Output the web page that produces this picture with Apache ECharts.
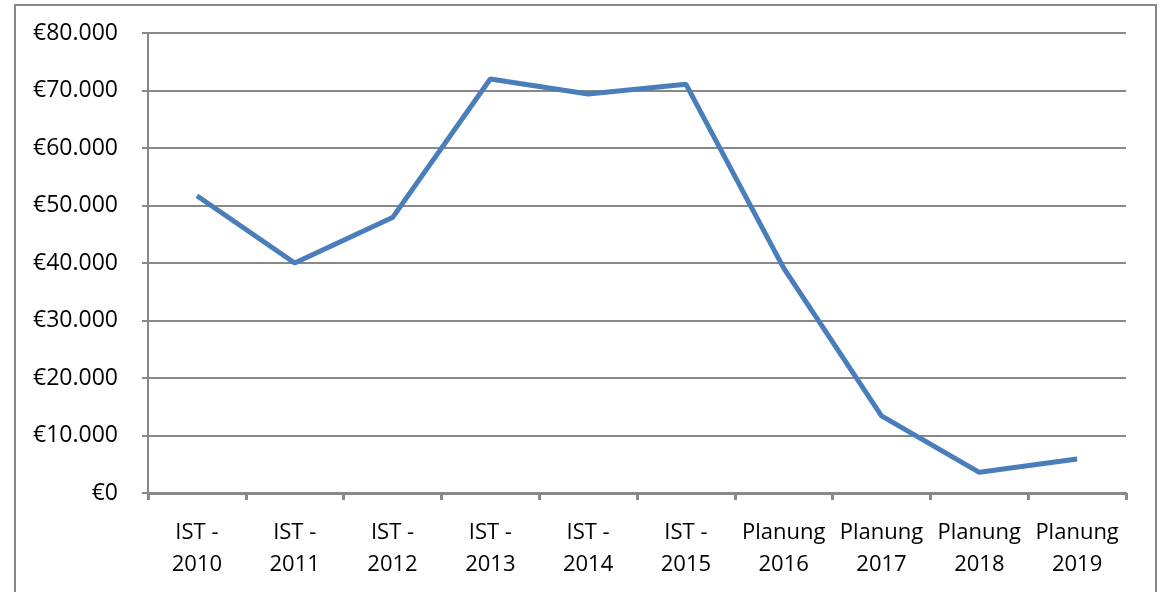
<!DOCTYPE html>
<html>
<head>
<meta charset="utf-8">
<script src="https://cdn.jsdelivr.net/npm/echarts@6/dist/echarts.min.js"></script>
<style>
html, body { margin: 0; padding: 0; background: #fff; }
#chart { width: 1160px; height: 592px; }
</style>
</head>
<body>
<div id="chart"></div>
<script>
// Kategorien und Werte
var categories = ['IST -\n2010', 'IST -\n2011', 'IST -\n2012', 'IST -\n2013', 'IST -\n2014', 'IST -\n2015',
    'Planung\n2016', 'Planung\n2017', 'Planung\n2018', 'Planung\n2019'];
var werte = [51700, 40000, 47900, 72000, 69400, 71100, 39100, 13400, 3600, 5900];
var yMin = 0, yMax = 80000, yStep = 10000;

var gray = '#888888';
var chart = echarts.init(document.getElementById('chart'));

function euro(v) {
    // €80.000 style
    return '€' + String(v).replace(/\B(?=(\d{3})+(?!\d))/g, '.');
}

var option = {
    animation: false,
    textStyle: { fontFamily: 'Open Sans' },
    graphic: [{
        type: 'rect',
        shape: { x: 15, y: 5, width: 1141, height: 600 },
        style: { fill: 'none', stroke: gray, lineWidth: 2 },
        silent: true
    }],
    grid: { left: 148, right: 34, top: 33, bottom: 99 },
    xAxis: {
        type: 'category',
        data: categories,
        boundaryGap: true,
        axisLine: { show: true, lineStyle: { color: gray, width: 3 } },
        axisTick: { show: true, length: 7, interval: 0, lineStyle: { color: gray, width: 3 } },
        axisLabel: {
            interval: 0,
            margin: 24,
            color: '#000',
            fontSize: 22,
            lineHeight: 32,
            fontFamily: 'Open Sans'
        },
        splitLine: { show: false }
    },
    yAxis: {
        type: 'value',
        min: yMin,
        max: yMax,
        interval: yStep,
        axisLine: { show: true, lineStyle: { color: gray, width: 2 } },
        axisTick: { show: true, length: 6, lineStyle: { color: gray, width: 2 } },
        axisLabel: {
            margin: 30,
            color: '#000',
            fontSize: 23,
            fontFamily: 'Open Sans',
            formatter: euro
        },
        splitLine: { show: true, lineStyle: { color: gray, width: 2 } }
    },
    series: [{
        type: 'line',
        data: werte,
        symbol: 'none',
        lineStyle: { color: '#4a7ebb', width: 5 },
        itemStyle: { color: '#4a7ebb' }
    }]
};

chart.setOption(option);
</script>
</body>
</html>
